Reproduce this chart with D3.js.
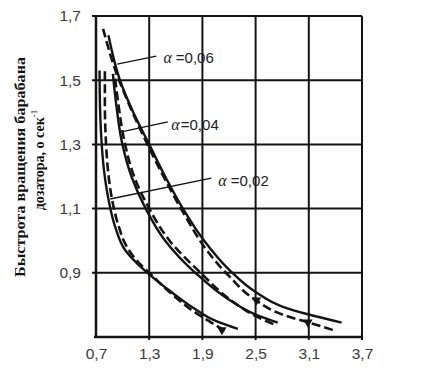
<!DOCTYPE html>
<html>
<head>
<meta charset="utf-8">
<script src="https://cdn.jsdelivr.net/npm/d3@7"></script>
<style>
  html, body { margin: 0; padding: 0; background: #fff; }
  svg { display: block; }
</style>
</head>
<body>
<div id="chart"></div>
<script>
(function () {
  'use strict';

  // Axis ticks
  var xTicks = [0.7, 1.3, 1.9, 2.5, 3.1, 3.7];
  var xTickLabels = ['0,7', '1,3', '1,9', '2,5', '3,1', '3,7'];
  var yTicks = [0.9, 1.1, 1.3, 1.5, 1.7];
  var yTickLabels = ['0,9', '1,1', '1,3', '1,5', '1,7'];
  var yTitle = ['Быстрота вращения барабана', 'дозатора, о сек'];

  // Curves [x, y]
  var solid006 = [[0.84, 1.64], [0.97, 1.50], [1.12, 1.40], [1.30, 1.30], [1.48, 1.20], [1.68, 1.10],
    [1.92, 1.00], [2.20, 0.91], [2.50, 0.84], [2.80, 0.795], [3.10, 0.77], [3.47, 0.745]];
  var dashed006 = [[0.78, 1.66], [0.92, 1.53], [1.08, 1.42], [1.28, 1.30], [1.48, 1.19], [1.70, 1.08],
    [1.95, 0.97], [2.20, 0.89], [2.50, 0.815], [2.80, 0.77], [3.10, 0.745], [3.37, 0.722]];
  var solid004 = [[0.89, 1.52], [0.93, 1.42], [0.99, 1.31], [1.10, 1.20], [1.26, 1.10], [1.48, 1.00],
    [1.82, 0.90], [2.18, 0.82], [2.50, 0.77], [2.75, 0.745]];
  var dashed004 = [[0.91, 1.52], [0.955, 1.42], [1.02, 1.31], [1.13, 1.20], [1.30, 1.10], [1.53, 1.00],
    [1.88, 0.90], [2.22, 0.815], [2.50, 0.765], [2.70, 0.74]];
  var solid002 = [[0.74, 1.53], [0.745, 1.42], [0.76, 1.32], [0.79, 1.22], [0.84, 1.13], [0.92, 1.04],
    [1.03, 0.97], [1.16, 0.93], [1.30, 0.895], [1.55, 0.84], [1.80, 0.79], [2.05, 0.75], [2.30, 0.725]];
  var dashed002 = [[0.80, 1.53], [0.80, 1.42], [0.81, 1.32], [0.835, 1.22], [0.88, 1.13], [0.95, 1.05],
    [1.05, 0.98], [1.17, 0.935], [1.32, 0.895], [1.55, 0.835], [1.80, 0.78], [2.00, 0.745], [2.15, 0.72]];

  // Experimental points (triangles)
  var markers = [[2.51, 0.815], [3.09, 0.746], [2.12, 0.722]];

  // Curve labels and their leader lines (from curve to label)
  var alphaLabels = ['=0,06', '=0,04', '=0,02'];
  var labelAt = [[1.46, 1.57], [1.55, 1.36], [2.08, 1.185]];
  var leaderFrom = [[0.94, 1.55], [1.00, 1.34], [0.86, 1.13]];
  var leaderTo = [[1.38, 1.575], [1.51, 1.37], [2.00, 1.195]];

  var width = 422, height = 377;
  var margin = { top: 16, right: 60, bottom: 40, left: 96 };

  var svg = d3.select('#chart').append('svg').attr('width', width).attr('height', height);
  svg.append('rect').attr('width', width).attr('height', height).attr('fill', '#fff');

  var x = d3.scaleLinear().domain([0.7, 3.7]).range([margin.left, width - margin.right]);
  var y = d3.scaleLinear().domain([0.7, 1.7]).range([337, margin.top]);

  var ink = '#141414';

  // Grid
  var grid = svg.append('g');
  grid.selectAll('line.vx').data(xTicks.slice(1)).enter().append('line')
    .attr('x1', function (d) { return x(d); }).attr('x2', function (d) { return x(d); })
    .attr('y1', y(1.7)).attr('y2', y(0.7) + 3)
    .attr('stroke', ink).attr('stroke-width', 2);
  grid.selectAll('line.hy').data(yTicks).enter().append('line')
    .attr('x1', x(0.7) - 4).attr('x2', x(3.7))
    .attr('y1', function (d) { return y(d); }).attr('y2', function (d) { return y(d); })
    .attr('stroke', ink).attr('stroke-width', 2);

  // Axes lines
  svg.append('line').attr('x1', x(0.7)).attr('x2', x(0.7)).attr('y1', y(1.7) - 1).attr('y2', y(0.7) + 1)
    .attr('stroke', ink).attr('stroke-width', 2.5);
  svg.append('line').attr('x1', x(0.7) - 2).attr('x2', x(3.7) + 1).attr('y1', y(0.7)).attr('y2', y(0.7))
    .attr('stroke', ink).attr('stroke-width', 2.5);

  // Tick labels
  var xAxis = d3.axisBottom(x).tickValues(xTicks).tickSize(0).tickPadding(11)
    .tickFormat(function (d, i) { return xTickLabels[i]; });
  var gx = svg.append('g').attr('transform', 'translate(0,' + y(0.7) + ')').call(xAxis);
  gx.select('.domain').remove();
  gx.selectAll('text').attr('font-family', 'Liberation Sans, Arial, sans-serif')
    .attr('font-size', 15.5).attr('fill', '#3a3a3a');

  var yAxis = d3.axisLeft(y).tickValues(yTicks).tickSize(0).tickPadding(15)
    .tickFormat(function (d, i) { return yTickLabels[i]; });
  var gy = svg.append('g').attr('transform', 'translate(' + x(0.7) + ',0)').call(yAxis);
  gy.select('.domain').remove();
  gy.selectAll('text').attr('font-family', 'Liberation Sans, Arial, sans-serif')
    .attr('font-size', 15.5).attr('fill', '#3a3a3a');

  // Y title (two rotated lines)
  svg.append('text').attr('transform', 'translate(25,167) rotate(-90)')
    .attr('text-anchor', 'middle').attr('font-family', 'Liberation Serif, Times New Roman, serif')
    .attr('font-weight', 'bold').attr('font-size', 14.5).attr('fill', '#111')
    .attr('textLength', 220).attr('lengthAdjust', 'spacingAndGlyphs')
    .text(yTitle[0]);
  var t2 = svg.append('text').attr('transform', 'translate(44,160) rotate(-90)')
    .attr('text-anchor', 'middle').attr('font-family', 'Liberation Serif, Times New Roman, serif')
    .attr('font-weight', 'bold').attr('font-size', 14).attr('fill', '#111');
  t2.append('tspan').text(yTitle[1]);
  t2.append('tspan').attr('dy', -7).attr('font-size', 9).attr('font-weight', 'normal').text('-1');

  // Curves (monotone in y, so sort by rising y)
  var line = d3.line()
    .x(function (d) { return x(d[0]); })
    .y(function (d) { return y(d[1]); })
    .curve(d3.curveMonotoneY);

  var curves = [
    { pts: solid006, dash: null }, { pts: dashed006, dash: '9,4' },
    { pts: solid004, dash: null }, { pts: dashed004, dash: '9,4' },
    { pts: solid002, dash: null }, { pts: dashed002, dash: '9,4' }
  ];
  svg.append('g').selectAll('path').data(curves).enter().append('path')
    .attr('d', function (d) { return line(d.pts.slice().reverse()); })
    .attr('fill', 'none').attr('stroke', ink)
    .attr('stroke-width', function (d) { return d.dash ? 2.6 : 2.4; })
    .attr('stroke-dasharray', function (d) { return d.dash; })
    .attr('stroke-linecap', 'butt');

  // Markers
  svg.append('g').selectAll('path').data(markers).enter().append('path')
    .attr('d', d3.symbol().type(d3.symbolTriangle).size(38))
    .attr('transform', function (d) { return 'translate(' + x(d[0]) + ',' + y(d[1]) + ') rotate(180)'; })
    .attr('fill', ink);

  // Leaders and labels
  var ann = svg.append('g');
  alphaLabels.forEach(function (lab, i) {
    ann.append('line')
      .attr('x1', x(leaderFrom[i][0])).attr('y1', y(leaderFrom[i][1]))
      .attr('x2', x(leaderTo[i][0])).attr('y2', y(leaderTo[i][1]))
      .attr('stroke', ink).attr('stroke-width', 1.4);
    var t = ann.append('text').attr('x', x(labelAt[i][0])).attr('y', y(labelAt[i][1]) + 5)
      .attr('font-family', 'Liberation Sans, Arial, sans-serif').attr('font-size', 15).attr('fill', '#222');
    t.append('tspan').attr('font-family', 'Liberation Serif, Times New Roman, serif')
      .attr('font-style', 'italic').attr('font-size', 16).text('α');
    t.append('tspan').attr('dx', i === 1 ? 1 : 4).text(lab);
  });
})();
</script>
</body>
</html>
